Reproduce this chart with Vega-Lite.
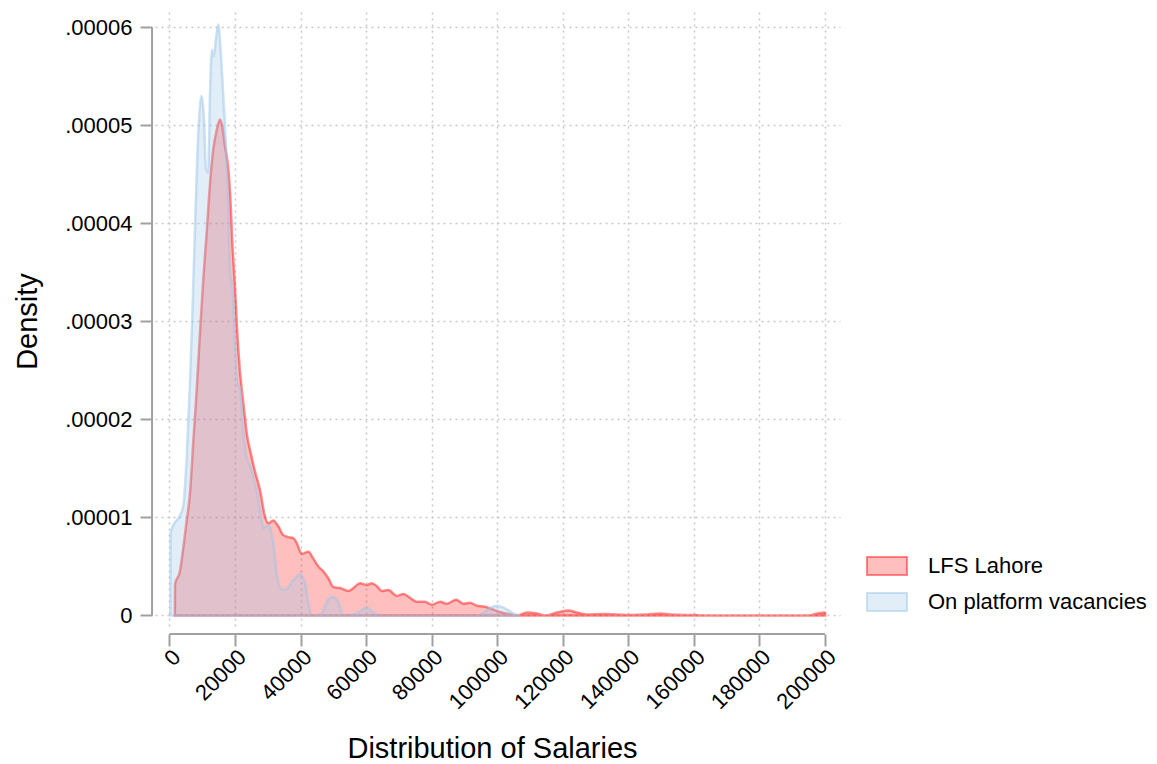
{
  "$schema": "https://vega.github.io/schema/vega-lite/v6.json",
  "width": 685,
  "height": 618,
  "autosize": {"type": "none"},
  "padding": {"left": 155, "top": 12, "right": 317, "bottom": 134},
  "background": "white",
  "config": {
    "font": "Liberation Sans",
    "view": {"stroke": null},
    "axis": {
      "domain": false,
      "tickColor": "#a0a0a0",
      "tickWidth": 2,
      "tickSize": 12,
      "labelFontSize": 22,
      "labelColor": "#000000",
      "labelOverlap": false,
      "titleFontSize": 29,
      "titleFontWeight": "normal",
      "titleColor": "#000000",
      "gridColor": "#c8c8c8",
      "gridDash": [2, 4],
      "gridWidth": 1.5
    },
    "legend": {"labelFontSize": 22, "labelColor": "#000000", "labelLimit": 400}
  },
  "data": {
    "values": [
      {"series": "LFS Lahore", "salary": 1650, "density": 0},
      {"series": "LFS Lahore", "salary": 1700, "density": 3.2e-6},
      {"series": "LFS Lahore", "salary": 3206, "density": 4.5e-6},
      {"series": "LFS Lahore", "salary": 4224, "density": 6.9e-6},
      {"series": "LFS Lahore", "salary": 5241, "density": 9.6e-6},
      {"series": "LFS Lahore", "salary": 6260, "density": 1.24e-5},
      {"series": "LFS Lahore", "salary": 7290, "density": 1.78e-5},
      {"series": "LFS Lahore", "salary": 8300, "density": 2.29e-5},
      {"series": "LFS Lahore", "salary": 9314, "density": 2.88e-5},
      {"series": "LFS Lahore", "salary": 10330, "density": 3.43e-5},
      {"series": "LFS Lahore", "salary": 11350, "density": 3.9e-5},
      {"series": "LFS Lahore", "salary": 12366, "density": 4.4e-5},
      {"series": "LFS Lahore", "salary": 13385, "density": 4.76e-5},
      {"series": "LFS Lahore", "salary": 14400, "density": 4.95e-5},
      {"series": "LFS Lahore", "salary": 15420, "density": 5.06e-5},
      {"series": "LFS Lahore", "salary": 16130, "density": 4.99e-5},
      {"series": "LFS Lahore", "salary": 16945, "density": 4.79e-5},
      {"series": "LFS Lahore", "salary": 17964, "density": 4.56e-5},
      {"series": "LFS Lahore", "salary": 18473, "density": 4.33e-5},
      {"series": "LFS Lahore", "salary": 19287, "density": 3.74e-5},
      {"series": "LFS Lahore", "salary": 20000, "density": 3.35e-5},
      {"series": "LFS Lahore", "salary": 20712, "density": 2.88e-5},
      {"series": "LFS Lahore", "salary": 21527, "density": 2.49e-5},
      {"series": "LFS Lahore", "salary": 22544, "density": 2.17e-5},
      {"series": "LFS Lahore", "salary": 23766, "density": 1.82e-5},
      {"series": "LFS Lahore", "salary": 24580, "density": 1.69e-5},
      {"series": "LFS Lahore", "salary": 26107, "density": 1.47e-5},
      {"series": "LFS Lahore", "salary": 27630, "density": 1.28e-5},
      {"series": "LFS Lahore", "salary": 29160, "density": 1.01e-5},
      {"series": "LFS Lahore", "salary": 30170, "density": 9.4e-6},
      {"series": "LFS Lahore", "salary": 31700, "density": 9.7e-6},
      {"series": "LFS Lahore", "salary": 33220, "density": 9.1e-6},
      {"series": "LFS Lahore", "salary": 34750, "density": 8.2e-6},
      {"series": "LFS Lahore", "salary": 36280, "density": 8.0e-6},
      {"series": "LFS Lahore", "salary": 37800, "density": 7.9e-6},
      {"series": "LFS Lahore", "salary": 38830, "density": 7.4e-6},
      {"series": "LFS Lahore", "salary": 40360, "density": 6.3e-6},
      {"series": "LFS Lahore", "salary": 42390, "density": 6.5e-6},
      {"series": "LFS Lahore", "salary": 43920, "density": 5.8e-6},
      {"series": "LFS Lahore", "salary": 45440, "density": 5.0e-6},
      {"series": "LFS Lahore", "salary": 46960, "density": 4.5e-6},
      {"series": "LFS Lahore", "salary": 48490, "density": 3.8e-6},
      {"series": "LFS Lahore", "salary": 50010, "density": 2.9e-6},
      {"series": "LFS Lahore", "salary": 52060, "density": 2.8e-6},
      {"series": "LFS Lahore", "salary": 54600, "density": 2.5e-6},
      {"series": "LFS Lahore", "salary": 56120, "density": 2.8e-6},
      {"series": "LFS Lahore", "salary": 58170, "density": 3.3e-6},
      {"series": "LFS Lahore", "salary": 60210, "density": 3.1e-6},
      {"series": "LFS Lahore", "salary": 61740, "density": 3.3e-6},
      {"series": "LFS Lahore", "salary": 63260, "density": 3.0e-6},
      {"series": "LFS Lahore", "salary": 64790, "density": 2.5e-6},
      {"series": "LFS Lahore", "salary": 66810, "density": 2.6e-6},
      {"series": "LFS Lahore", "salary": 69370, "density": 2.0e-6},
      {"series": "LFS Lahore", "salary": 71390, "density": 2.2e-6},
      {"series": "LFS Lahore", "salary": 73430, "density": 1.8e-6},
      {"series": "LFS Lahore", "salary": 75480, "density": 1.4e-6},
      {"series": "LFS Lahore", "salary": 78010, "density": 1.4e-6},
      {"series": "LFS Lahore", "salary": 80060, "density": 1.1e-6},
      {"series": "LFS Lahore", "salary": 82600, "density": 1.4e-6},
      {"series": "LFS Lahore", "salary": 84640, "density": 1.2e-6},
      {"series": "LFS Lahore", "salary": 87480, "density": 1.6e-6},
      {"series": "LFS Lahore", "salary": 89710, "density": 1.2e-6},
      {"series": "LFS Lahore", "salary": 91750, "density": 1.3e-6},
      {"series": "LFS Lahore", "salary": 93800, "density": 1.0e-6},
      {"series": "LFS Lahore", "salary": 96330, "density": 9e-7},
      {"series": "LFS Lahore", "salary": 98870, "density": 6e-7},
      {"series": "LFS Lahore", "salary": 101430, "density": 3e-7},
      {"series": "LFS Lahore", "salary": 104490, "density": 1e-7},
      {"series": "LFS Lahore", "salary": 106000, "density": 0},
      {"series": "LFS Lahore", "salary": 109070, "density": 3e-7},
      {"series": "LFS Lahore", "salary": 112120, "density": 2e-7},
      {"series": "LFS Lahore", "salary": 114660, "density": 0},
      {"series": "LFS Lahore", "salary": 118230, "density": 3e-7},
      {"series": "LFS Lahore", "salary": 121770, "density": 5e-7},
      {"series": "LFS Lahore", "salary": 124330, "density": 3e-7},
      {"series": "LFS Lahore", "salary": 127380, "density": 1e-7},
      {"series": "LFS Lahore", "salary": 132460, "density": 1.5e-7},
      {"series": "LFS Lahore", "salary": 136550, "density": 1e-7},
      {"series": "LFS Lahore", "salary": 140610, "density": 5e-8},
      {"series": "LFS Lahore", "salary": 145710, "density": 1e-7},
      {"series": "LFS Lahore", "salary": 149770, "density": 2e-7},
      {"series": "LFS Lahore", "salary": 152820, "density": 1e-7},
      {"series": "LFS Lahore", "salary": 156880, "density": 5e-8},
      {"series": "LFS Lahore", "salary": 159940, "density": 5e-8},
      {"series": "LFS Lahore", "salary": 163000, "density": 0},
      {"series": "LFS Lahore", "salary": 195000, "density": 0},
      {"series": "LFS Lahore", "salary": 197600, "density": 2e-7},
      {"series": "LFS Lahore", "salary": 200000, "density": 3e-7},
      {"series": "LFS Lahore", "salary": 200100, "density": 0},
      {"series": "On platform vacancies", "salary": 300, "density": 0},
      {"series": "On platform vacancies", "salary": 356, "density": 8.4e-6},
      {"series": "On platform vacancies", "salary": 1170, "density": 9.2e-6},
      {"series": "On platform vacancies", "salary": 3206, "density": 1.02e-5},
      {"series": "On platform vacancies", "salary": 4224, "density": 1.12e-5},
      {"series": "On platform vacancies", "salary": 5241, "density": 1.59e-5},
      {"series": "On platform vacancies", "salary": 6260, "density": 2.37e-5},
      {"series": "On platform vacancies", "salary": 7074, "density": 3.15e-5},
      {"series": "On platform vacancies", "salary": 7786, "density": 3.93e-5},
      {"series": "On platform vacancies", "salary": 8804, "density": 4.91e-5},
      {"series": "On platform vacancies", "salary": 9822, "density": 5.3e-5},
      {"series": "On platform vacancies", "salary": 10534, "density": 5.07e-5},
      {"series": "On platform vacancies", "salary": 11145, "density": 4.56e-5},
      {"series": "On platform vacancies", "salary": 11857, "density": 4.52e-5},
      {"series": "On platform vacancies", "salary": 12366, "density": 5.3e-5},
      {"series": "On platform vacancies", "salary": 12977, "density": 5.77e-5},
      {"series": "On platform vacancies", "salary": 13588, "density": 5.71e-5},
      {"series": "On platform vacancies", "salary": 14198, "density": 5.89e-5},
      {"series": "On platform vacancies", "salary": 14911, "density": 6.03e-5},
      {"series": "On platform vacancies", "salary": 15623, "density": 5.77e-5},
      {"series": "On platform vacancies", "salary": 16437, "density": 5.3e-5},
      {"series": "On platform vacancies", "salary": 17252, "density": 4.8e-5},
      {"series": "On platform vacancies", "salary": 17964, "density": 4.2e-5},
      {"series": "On platform vacancies", "salary": 18473, "density": 3.5e-5},
      {"series": "On platform vacancies", "salary": 19287, "density": 3.35e-5},
      {"series": "On platform vacancies", "salary": 20000, "density": 2.76e-5},
      {"series": "On platform vacancies", "salary": 20712, "density": 2.37e-5},
      {"series": "On platform vacancies", "salary": 21527, "density": 2.33e-5},
      {"series": "On platform vacancies", "salary": 22544, "density": 1.86e-5},
      {"series": "On platform vacancies", "salary": 23766, "density": 1.59e-5},
      {"series": "On platform vacancies", "salary": 24580, "density": 1.53e-5},
      {"series": "On platform vacancies", "salary": 26107, "density": 1.35e-5},
      {"series": "On platform vacancies", "salary": 27630, "density": 1.08e-5},
      {"series": "On platform vacancies", "salary": 28650, "density": 8.9e-6},
      {"series": "On platform vacancies", "salary": 30170, "density": 9.2e-6},
      {"series": "On platform vacancies", "salary": 31700, "density": 7.4e-6},
      {"series": "On platform vacancies", "salary": 32730, "density": 4.3e-6},
      {"series": "On platform vacancies", "salary": 33740, "density": 2.8e-6},
      {"series": "On platform vacancies", "salary": 35270, "density": 2.6e-6},
      {"series": "On platform vacancies", "salary": 36790, "density": 3.1e-6},
      {"series": "On platform vacancies", "salary": 38320, "density": 3.8e-6},
      {"series": "On platform vacancies", "salary": 39850, "density": 4.2e-6},
      {"series": "On platform vacancies", "salary": 41370, "density": 3.3e-6},
      {"series": "On platform vacancies", "salary": 42390, "density": 1.3e-6},
      {"series": "On platform vacancies", "salary": 43410, "density": 0},
      {"series": "On platform vacancies", "salary": 46460, "density": 2e-7},
      {"series": "On platform vacancies", "salary": 48000, "density": 1.4e-6},
      {"series": "On platform vacancies", "salary": 49830, "density": 1.9e-6},
      {"series": "On platform vacancies", "salary": 51540, "density": 1.4e-6},
      {"series": "On platform vacancies", "salary": 53070, "density": 0},
      {"series": "On platform vacancies", "salary": 57150, "density": 2e-7},
      {"series": "On platform vacancies", "salary": 60210, "density": 8e-7},
      {"series": "On platform vacancies", "salary": 62750, "density": 2e-7},
      {"series": "On platform vacancies", "salary": 64500, "density": 0},
      {"series": "On platform vacancies", "salary": 94000, "density": 0},
      {"series": "On platform vacancies", "salary": 96000, "density": 3e-7},
      {"series": "On platform vacancies", "salary": 98000, "density": 8e-7},
      {"series": "On platform vacancies", "salary": 100000, "density": 1.0e-6},
      {"series": "On platform vacancies", "salary": 102000, "density": 8e-7},
      {"series": "On platform vacancies", "salary": 105000, "density": 2e-7},
      {"series": "On platform vacancies", "salary": 107000, "density": 0}
    ]
  },
  "layer": [
    {
      "transform": [{"filter": "datum.series === 'LFS Lahore'"}],
      "mark": {"type": "area", "interpolate": "monotone", "strokeWidth": 2.5},
      "encoding": {
        "x": {
          "field": "salary",
          "type": "quantitative",
          "title": "Distribution of Salaries",
          "scale": {"domain": [-4400, 204600], "nice": false, "zero": false},
          "axis": {
            "values": [0, 20000, 40000, 60000, 80000, 100000, 120000, 140000, 160000, 180000, 200000],
            "format": "d",
            "labelAngle": -45,
            "offset": 4,
            "labelPadding": 0,
            "titlePadding": 22,
            "titleX": 337
          }
        },
        "y": {
          "field": "density",
          "type": "quantitative",
          "stack": null,
          "title": "Density",
          "scale": {"domain": [-0.00000148, 0.00006158], "nice": false, "zero": false},
          "axis": {
            "values": [0, 0.00001, 0.00002, 0.00003, 0.00004, 0.00005, 0.00006],
            "labelExpr": "datum.value == 0 ? '0' : replace(format(datum.value, '.5f'), '0.', '.')",
            "offset": 3,
            "labelPadding": 8,
            "titlePadding": 22
          }
        },
        "fill": {
          "field": "series",
          "type": "nominal",
          "scale": {"domain": ["LFS Lahore", "On platform vacancies"], "range": ["rgba(255,0,0,0.25)", "rgba(155,198,232,0.3)"]},
          "legend": {
            "title": null,
            "orient": "none",
            "legendX": 711,
            "legendY": 533,
            "padding": 0,
            "symbolType": "M-1,-0.45L1,-0.45L1,0.45L-1,0.45Z",
            "symbolSize": 1600,
            "symbolStrokeWidth": 2,
            "labelOffset": 20,
            "rowPadding": 2
          }
        },
        "stroke": {
          "field": "series",
          "type": "nominal",
          "scale": {"domain": ["LFS Lahore", "On platform vacancies"], "range": ["rgba(255,0,0,0.45)", "rgba(155,198,232,0.5)"]},
          "legend": {
            "title": null,
            "orient": "none",
            "legendX": 711,
            "legendY": 533,
            "padding": 0,
            "symbolType": "M-1,-0.45L1,-0.45L1,0.45L-1,0.45Z",
            "symbolSize": 1600,
            "symbolStrokeWidth": 2,
            "labelOffset": 20,
            "rowPadding": 2
          }
        }
      }
    },
    {
      "transform": [{"filter": "datum.series === 'On platform vacancies'"}],
      "mark": {"type": "area", "interpolate": "monotone", "strokeWidth": 2.5},
      "encoding": {
        "x": {"field": "salary", "type": "quantitative"},
        "y": {"field": "density", "type": "quantitative", "stack": null},
        "fill": {"field": "series", "type": "nominal"},
        "stroke": {"field": "series", "type": "nominal"}
      }
    },
    {
      "data": {"values": [{}]},
      "mark": {"type": "rule", "color": "#a0a0a0", "strokeWidth": 2},
      "encoding": {
        "x": {"datum": -5300, "type": "quantitative"},
        "y": {"datum": 0, "type": "quantitative"},
        "y2": {"datum": 0.00006}
      }
    },
    {
      "data": {"values": [{}]},
      "mark": {"type": "rule", "color": "#a0a0a0", "strokeWidth": 2},
      "encoding": {
        "y": {"datum": -0.0000019, "type": "quantitative"},
        "x": {"datum": 0, "type": "quantitative"},
        "x2": {"datum": 200000}
      }
    }
  ]
}
